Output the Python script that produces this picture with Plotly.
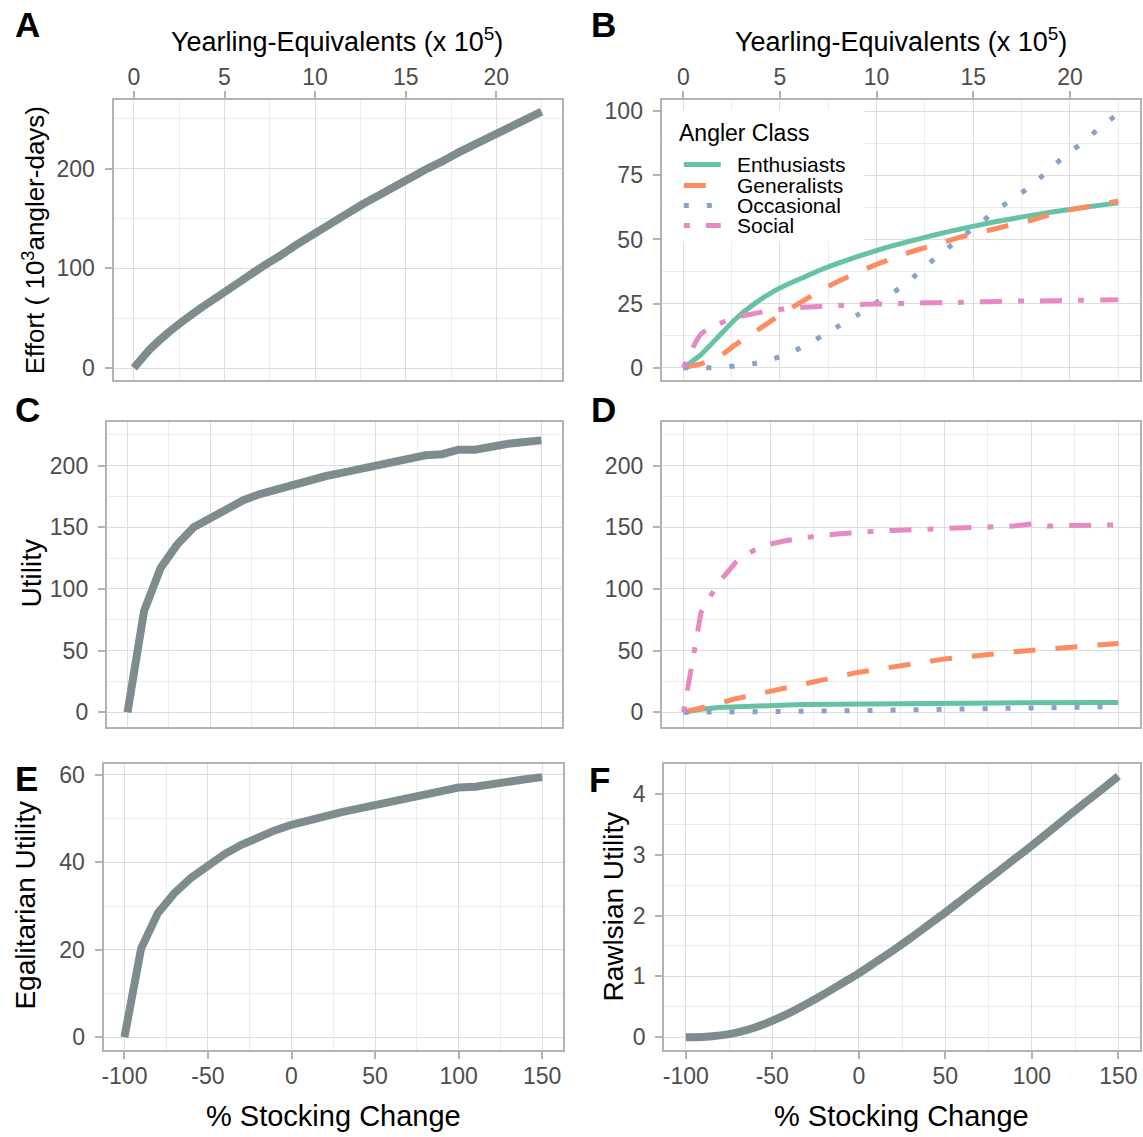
import plotly.graph_objects as go

# ---------------- data ----------------
pct_change = [-100, -90, -80, -70, -60, -50, -40, -30, -20, -10, 0, 10, 20,
              30, 40, 50, 60, 70, 80, 90, 100, 110, 120, 130, 140, 150]
yearlings = [0.0, 0.9, 1.8, 2.7, 3.6, 4.5, 5.4, 6.3, 7.2, 8.1, 9.0, 9.9, 10.8,
             11.7, 12.6, 13.5, 14.4, 15.3, 16.2, 17.1, 18.0, 18.9, 19.8, 20.7, 21.6, 22.5]

# tick labels
pct_ticks = [-100, -50, 0, 50, 100, 150]
pct_tick_labels = ["-100", "-50", "0", "50", "100", "150"]

# Panel A: total effort (10^3 angler-days)
effort_total = [0, 19, 34, 47, 59, 70, 81, 92, 103, 113, 124, 134, 144,
                154, 164, 173, 182, 191, 200, 208, 217, 225, 233, 241, 249, 257]

# Panel B: effort by angler class
effort_enthusiasts = [0, 5, 12, 19, 24.5, 29, 32.5, 35.5, 38.5, 41, 43.3, 45.5, 47.5,
                      49.3, 51, 52.7, 54.2, 55.6, 57, 58.2, 59.4, 60.5, 61.5, 62.5, 63.4, 64.3]
effort_generalists = [0, 1.5, 4, 9, 13.5, 18, 22.5, 26.5, 30.5, 34, 37, 40, 42.5,
                      45, 47, 49, 51, 52.7, 54.3, 56, 57.5, 59.5, 61.3, 62.5, 63.8, 65]
effort_occasional = [0, 0, 0, 0.7, 1.5, 3, 5.5, 8.5, 12.5, 16.5, 20.5, 25, 29,
                     34, 40, 45.5, 51, 56, 61.5, 66, 71, 77, 83, 88, 94, 99]
effort_social = [0, 13, 17, 19.5, 21, 22.3, 23, 23.6, 24, 24.3, 24.6, 24.8, 25,
                 25.1, 25.3, 25.4, 25.5, 25.7, 25.8, 26, 26, 26.1, 26.2, 26.3, 26.4, 26.5]

# Panel C: total utility
utility_total = [0, 82, 117, 136, 150, 157.5, 166, 172, 177, 181, 185, 188.4, 191.6,
                 194.3, 197, 199.7, 203, 205, 208.4, 209.3, 213, 213, 216, 217.8, 219.2, 220.5]

# Panel D: utility by angler class
utility_enthusiasts = [0, 2.5, 3.8, 4.6, 5.2, 5.6, 6, 6.3, 6.5, 6.7, 6.9, 7, 7.1,
                       7.2, 7.3, 7.4, 7.5, 7.55, 7.6, 7.65, 7.7, 7.75, 7.8, 7.85, 7.9, 7.95]
utility_generalists = [0, 3, 7, 11, 14, 17.5, 21, 24, 27, 29.7, 32.3, 34.5, 37,
                       39.3, 41, 43.3, 45, 46.3, 47.5, 49, 50.3, 51.7, 52.8, 53.8, 54.8, 55.7]
utility_occasional = [0, 0, 0.1, 0.2, 0.35, 0.5, 0.65, 0.8, 0.95, 1.1, 1.3, 1.4, 1.5,
                      1.6, 1.8, 1.9, 2.1, 2.3, 2.5, 2.7, 3.0, 3.3, 3.6, 3.9, 4.2, 4.6]
utility_social = [0, 81, 105, 121.5, 131, 136.5, 139.5, 141.7, 143.6, 144.7, 146, 146.8, 147.5,
                  148, 148.8, 149.5, 150, 150.5, 151, 151, 152.7, 151, 151.5, 152, 152, 152]

# Panel E / F
utility_egalitarian = [0, 20.3, 28.4, 33, 36.5, 39.4, 41.9, 44, 45.8, 47.3, 48.6, 49.7, 50.6,
                       51.5, 52.3, 53.1, 54.2, 54.8, 55.7, 56.2, 57.1, 57.3, 58, 58.5, 59, 59.5]
utility_rawlsian = [0, 0.005, 0.03, 0.08, 0.16, 0.27, 0.40, 0.55, 0.71, 0.88, 1.05, 1.24, 1.43,
                    1.63, 1.84, 2.05, 2.27, 2.49, 2.71, 2.93, 3.15, 3.38, 3.61, 3.84, 4.06, 4.29]

class_names = ["Enthusiasts", "Generalists", "Occasional", "Social"]

# ---------------- styling ----------------
W, H = 1143, 1137
FONT = "Liberation Sans, Arial, sans-serif"
GREY_LINE = "#7F8C8D"
CLASS_COLORS = ["#66C2A5", "#FC8D62", "#8DA0CB", "#E78AC3"]
CLASS_DASH = ["solid", "22px,20px", "5px,18px", "6px,16px,22px,16px"]
BORDER = "#B3B3B3"
GRID = "#DEDEDE"
GRID_MINOR = "#EBEBEB"


def fx(p):
    return p / W


def fy(p):
    return 1 - p / H


# panel pixel boxes (left, right, top, bottom)
boxes = {
    1: (111.7, 561, 98, 379),
    2: (660.7, 1140, 98, 379),
    3: (105, 561, 421, 727),
    4: (661, 1140, 421, 727),
    5: (101.7, 562, 764, 1051),
    6: (663.3, 1140, 764, 1051),
}

fig = go.Figure()


def sfx(i):
    return "" if i == 1 else str(i)


# Panel A
fig.add_trace(go.Scatter(x=yearlings, y=effort_total, mode="lines",
                         line=dict(color=GREY_LINE, width=8, shape="spline", smoothing=0.6),
                         xaxis="x", yaxis="y"))
# Panel B
for name, vals, col, dash in zip(class_names,
                                 [effort_enthusiasts, effort_generalists, effort_occasional, effort_social],
                                 CLASS_COLORS, CLASS_DASH):
    fig.add_trace(go.Scatter(x=yearlings, y=vals, mode="lines", name=name,
                             line=dict(color=col, width=5, dash=dash, shape="spline", smoothing=0.6),
                             xaxis="x2", yaxis="y2"))
# Panel C
fig.add_trace(go.Scatter(x=pct_change, y=utility_total, mode="lines",
                         line=dict(color=GREY_LINE, width=8), xaxis="x3", yaxis="y3"))
# Panel D
for name, vals, col, dash in zip(class_names,
                                 [utility_enthusiasts, utility_generalists, utility_occasional, utility_social],
                                 CLASS_COLORS, CLASS_DASH):
    fig.add_trace(go.Scatter(x=pct_change, y=vals, mode="lines", name=name,
                             line=dict(color=col, width=5, dash=dash), xaxis="x4", yaxis="y4"))
# Panel E
fig.add_trace(go.Scatter(x=pct_change, y=utility_egalitarian, mode="lines",
                         line=dict(color=GREY_LINE, width=8), xaxis="x5", yaxis="y5"))
# Panel F
fig.add_trace(go.Scatter(x=pct_change, y=utility_rawlsian, mode="lines",
                         line=dict(color=GREY_LINE, width=8, shape="spline", smoothing=0.8),
                         xaxis="x6", yaxis="y6"))

common = dict(showline=True, mirror=True, linecolor=BORDER, linewidth=2,
              showgrid=True, gridcolor=GRID, gridwidth=1.3, zeroline=False,
              tickcolor=BORDER, tickwidth=1.5, ticklen=7,
              tickfont=dict(family=FONT, size=23, color="#4D4D4D"),
              fixedrange=True)

x_specs = {
    1: dict(range=[-1.125, 23.625], dtick=5, minor=2.5, side="top", labels=True),
    2: dict(range=[-1.125, 23.625], dtick=5, minor=2.5, side="top", labels=True),
    3: dict(range=[-112.5, 162.5], dtick=50, minor=25, side="bottom", labels=False),
    4: dict(range=[-112.5, 162.5], dtick=50, minor=25, side="bottom", labels=False),
    5: dict(range=[-112.5, 162.5], dtick=50, minor=25, side="bottom", labels=True),
    6: dict(range=[-112.5, 162.5], dtick=50, minor=25, side="bottom", labels=True),
}
y_specs = {
    1: dict(range=[-12, 269], dtick=100, minor=50),
    2: dict(range=[-4.8, 104.5], dtick=25, minor=12.5),
    3: dict(range=[-12, 235.5], dtick=50, minor=25),
    4: dict(range=[-12, 235.5], dtick=50, minor=25),
    5: dict(range=[-2.97, 62.5], dtick=20, minor=10),
    6: dict(range=[-0.214, 4.49], dtick=1, minor=0.5),
}

layout_axes = {}
for i in range(1, 7):
    l, r, t, b = boxes[i]
    xs, ys = x_specs[i], y_specs[i]
    xa = dict(common)
    xa.update(domain=[fx(l), fx(r)], range=xs["range"],
              anchor="y" + sfx(i), side=xs["side"],
              minor=dict(tickmode="linear", tick0=0, dtick=xs["minor"], showgrid=True,
                         gridcolor=GRID_MINOR, gridwidth=1),
              showticklabels=xs["labels"], ticks="outside" if xs["labels"] else "",
              ticklabelstandoff=-3)
    if i >= 3:
        xa.update(tickmode="array", tickvals=pct_ticks, ticktext=pct_tick_labels)
    else:
        xa.update(tickmode="linear", tick0=0, dtick=xs["dtick"])
    ya = dict(common)
    ya.update(domain=[fy(b), fy(t)], range=ys["range"], tickmode="linear", tick0=0, dtick=ys["dtick"],
              anchor="x" + sfx(i), ticks="outside", ticklabelstandoff=5,
              minor=dict(tickmode="linear", tick0=0, dtick=ys["minor"], showgrid=True,
                         gridcolor=GRID_MINOR, gridwidth=1))
    layout_axes["xaxis" + sfx(i)] = xa
    layout_axes["yaxis" + sfx(i)] = ya

annotations = []


def txt(text, x, y, size=28, angle=0, bold=False, color="black", xanchor="center"):
    if bold:
        text = "<b>" + text + "</b>"
    annotations.append(dict(text=text, x=fx(x), y=fy(y), xref="paper", yref="paper",
                            showarrow=False, textangle=angle, xanchor=xanchor, yanchor="middle",
                            font=dict(family=FONT, size=size, color=color)))


# panel letters
for letter, (x, y) in zip("ABCDEF", [(26, 23), (603, 23), (26, 409), (603, 409), (25, 779), (599, 780)]):
    txt(letter, x, y, size=35, bold=True)

# axis titles
txt("Yearling-Equivalents (x 10<sup>5</sup>)", 336, 38, size=27)
txt("Yearling-Equivalents (x 10<sup>5</sup>)", 901, 38, size=27)
txt("% Stocking Change", 332, 1117, size=29)
txt("% Stocking Change", 901, 1117, size=29)
txt("Effort ( 10<sup>3</sup>angler-days)", 32, 239, size=26, angle=-90)
txt("Utility", 30, 573, size=28, angle=-90)
txt("Egalitarian Utility", 24, 905, size=28, angle=-90)
txt("Rawlsian Utility", 613, 907, size=28, angle=-90)

# legend for panel B (drawn as a guide box)
shapes = [dict(type="rect", xref="paper", yref="paper", x0=fx(662), x1=fx(864), y0=fy(240), y1=fy(108),
               fillcolor="white", line=dict(width=0), layer="above")]
txt("Angler Class", 676, 131, size=23, xanchor="left")
leg_rows = [163, 184, 204, 224]
for name, col, dash, yy in zip(class_names, CLASS_COLORS, CLASS_DASH, leg_rows):
    shapes.append(dict(type="line", xref="paper", yref="paper", x0=fx(683), x1=fx(720), y0=fy(yy), y1=fy(yy),
                       line=dict(color=col, width=5, dash=dash), layer="above"))
    txt(name, 734, yy, size=21, xanchor="left")

fig.update_layout(width=W, height=H, margin=dict(l=0, r=0, t=0, b=0),
                  paper_bgcolor="white", plot_bgcolor="white", showlegend=False,
                  annotations=annotations, shapes=shapes, **layout_axes)

fig.write_html("out.html")
